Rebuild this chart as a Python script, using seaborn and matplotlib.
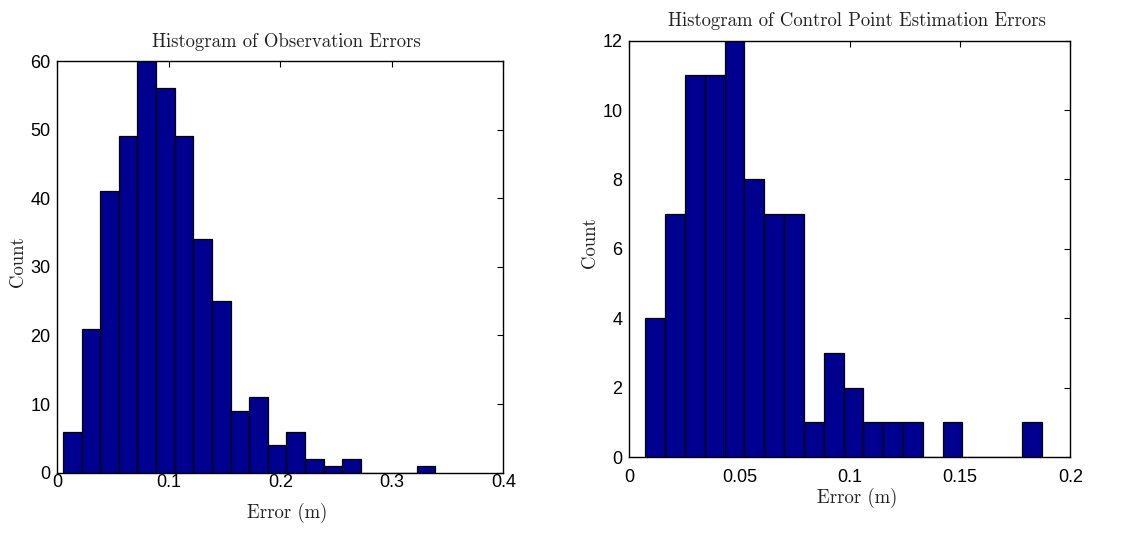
import numpy as np
import pandas as pd
import matplotlib
matplotlib.use("Agg")
import matplotlib.pyplot as plt
import seaborn as sns

# ---- data ----
obs_counts = [6, 21, 41, 49, 60, 56, 49, 34, 25, 9, 11, 4, 6, 2, 1, 2, 0, 0, 0, 1]
obs_start = 0.0051
obs_end = 0.339

cp_counts = [4, 7, 11, 11, 12, 8, 7, 7, 1, 3, 2, 1, 1, 1, 0, 1, 0, 0, 0, 1]
cp_start = 0.0073
cp_end = 0.187

obs_xticks = [0, 0.1, 0.2, 0.3, 0.4]
obs_xlabels = ["0", "0.1", "0.2", "0.3", "0.4"]
obs_yticks = [0, 10, 20, 30, 40, 50, 60]
cp_xticks = [0, 0.05, 0.1, 0.15, 0.2]
cp_xlabels = ["0", "0.05", "0.1", "0.15", "0.2"]
cp_yticks = [0, 2, 4, 6, 8, 10, 12]

title_left = "Histogram of Observation Errors"
title_right = "Histogram of Control Point Estimation Errors"
xlabel = "Error (m)"
ylabel = "Count"

sns.set_style("white")
plt.rcParams["font.family"] = ["Liberation Sans", "DejaVu Sans"]

W, H = 1144, 539
fig = plt.figure(figsize=(W / 100, H / 100), dpi=100)

BAR = "#000090"
serif = "cmr10"


def draw(ax, counts, start, end, xlim, ylim, xticks, xlabels, yticks, xpad):
    n = len(counts)
    edges = np.linspace(start, end, n + 1)
    centers = (edges[:-1] + edges[1:]) / 2
    df = pd.DataFrame({"x": centers, "w": counts})
    sns.histplot(data=df, x="x", weights="w", bins=n, binrange=(start, end), ax=ax,
                 color=BAR, alpha=1.0, edgecolor="black", linewidth=0.9)
    ax.set_xlim(*xlim)
    ax.set_ylim(*ylim)
    ax.set_xticks(xticks)
    ax.set_xticklabels(xlabels)
    ax.set_yticks(yticks)
    ax.tick_params(direction="in", length=4, width=0.8, top=True, right=True,
                   labelsize=13, colors="black")
    ax.tick_params(axis="x", pad=xpad)
    ax.tick_params(axis="y", pad=5)
    for s in ax.spines.values():
        s.set_visible(True)
        s.set_color("black")
        s.set_linewidth(1.0)
    ax.set_xlabel("")
    ax.set_ylabel("")


axL = fig.add_axes([57.3 / W, 1 - 472.7 / H, 446 / W, (472.7 - 61) / H])
draw(axL, obs_counts, obs_start, obs_end, (0, 0.4), (0, 60),
     obs_xticks, obs_xlabels, obs_yticks, xpad=1)

axR = fig.add_axes([629.3 / W, 1 - 457 / H, 441 / W, (457 - 40.7) / H])
draw(axR, cp_counts, cp_start, cp_end, (0, 0.2), (0, 12),
     cp_xticks, cp_xlabels, cp_yticks, xpad=9)

tkw = dict(family=serif, fontsize=13.5, color="#222222")
fig.text(151.7 / W, 1 - 42 / H, title_left, ha="left", va="center", **tkw)
fig.text(667.7 / W, 1 - 21 / H, title_right, ha="left", va="center", **tkw)

lkw = dict(family=serif, fontsize=13.5, color="#222222")
fig.text(287 / W, 1 - 513 / H, xlabel, ha="center", va="center", **lkw)
fig.text(857 / W, 1 - 498 / H, xlabel, ha="center", va="center", **lkw)
fig.text(18 / W, 1 - 262 / H, ylabel, ha="center", va="center", rotation=90, **lkw)
fig.text(590 / W, 1 - 243 / H, ylabel, ha="center", va="center", rotation=90, **lkw)

fig.savefig("out.png", dpi=100, facecolor="white")
